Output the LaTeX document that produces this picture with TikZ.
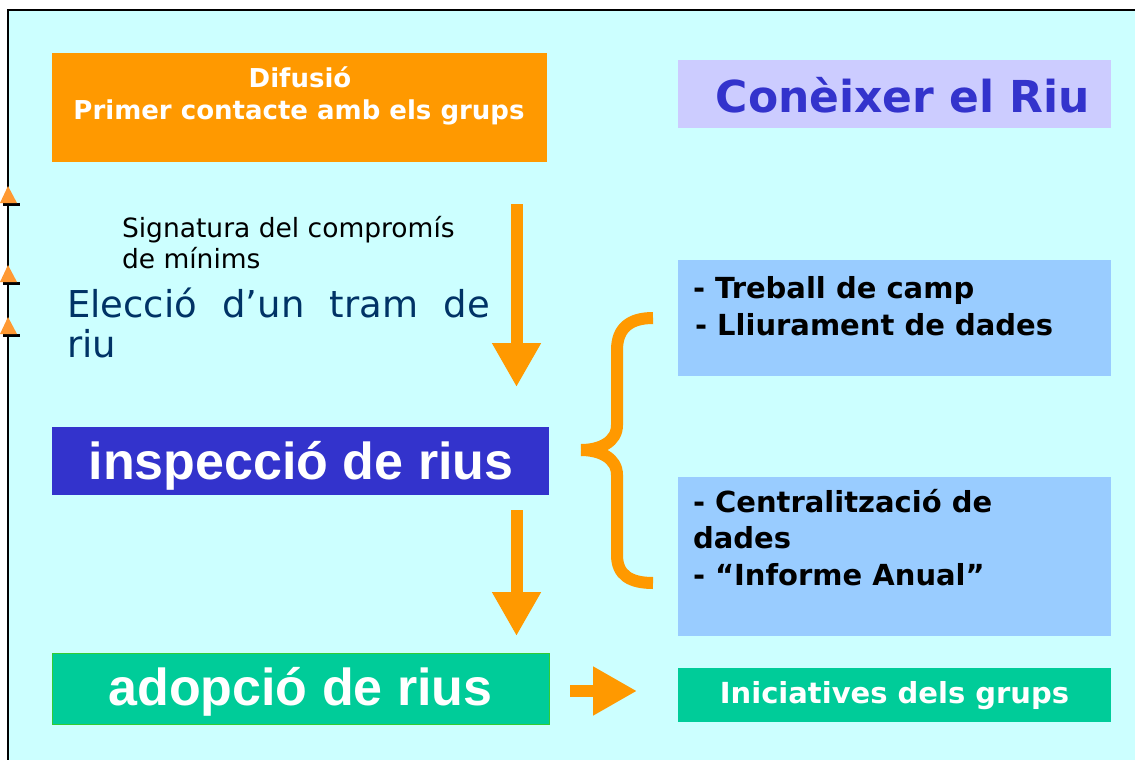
\documentclass[tikz,border=0pt]{standalone}
\usepackage{fontspec}
\setmainfont{DejaVu Sans}
\newfontfamily\arialish{Liberation Sans}
\usetikzlibrary{arrows.meta}
\definecolor{panel}{HTML}{CCFFFF}
\definecolor{orangebox}{HTML}{FF9900}
\definecolor{lilac}{HTML}{CCCCFF}
\definecolor{indigo}{HTML}{3333CC}
\definecolor{teal}{HTML}{00CC99}
\definecolor{tealborder}{HTML}{33CC33}
\definecolor{skyblue}{HTML}{99CCFF}
\definecolor{navy}{HTML}{003366}
\definecolor{bullet}{HTML}{FF9933}
\tikzset{
  box/.style={anchor=north west, inner sep=0pt, outer sep=0pt, draw=none},
  txt/.style={inner sep=0pt, outer sep=0pt, anchor=base},
  ltxt/.style={inner sep=0pt, outer sep=0pt, anchor=base west},
  flow/.style={draw=orangebox, line width=12pt, -{Triangle[width=46pt,length=44pt]}},
  brace/.style={draw=orangebox, line width=12pt, line cap=butt},
}
\newcommand{\fs}[1]{\fontsize{#1}{#1}\selectfont}
\begin{document}
\begin{tikzpicture}[x=1pt,y=-1pt]
\useasboundingbox (0,0) rectangle (1135,760);
\fill[white] (0,0) rectangle (1135,760);
\fill[panel] (8,10) rectangle (1135,760);
\draw[line width=2pt] (8,760) -- (8,10) -- (1135,10);

% bullets on the left edge
\foreach \yy/\nm in {203/b1, 282/b2, 334/b3}{
  \fill[black] (3,\yy) rectangle (20,\yy+3);
  \fill[bullet] (0,\yy) -- (8,\yy-17) -- (17,\yy) -- cycle;
}

% boxes
\node[box, fill=orangebox, minimum width=495pt, minimum height=109pt] (dif) at (52,53) {};
\node[box, fill=lilac, minimum width=433pt, minimum height=68pt] (con) at (678,60) {};
\node[box, fill=indigo, minimum width=497pt, minimum height=68pt] (ins) at (52,427) {};
\node[box, fill=teal, draw=tealborder, line width=1pt, minimum width=497pt, minimum height=71pt] (ado) at (52,653) {};
\node[box, fill=skyblue, minimum width=433pt, minimum height=116pt] (tre) at (678,260) {};
\node[box, fill=skyblue, minimum width=433pt, minimum height=159pt] (cen) at (678,477) {};
\node[box, fill=teal, minimum width=433pt, minimum height=54pt] (ini) at (678,668) {};

% texts
\node[txt, white, font=\fs{26}\bfseries] (t1) at (300,87) {Difusió};
\node[txt, white, font=\fs{26}\bfseries] (t2) at (299,119) {Primer contacte amb els grups};
\node[txt, indigo, font=\fs{44}\bfseries] (t3) at (903,112) {Conèixer el Riu};
\node[ltxt, black, font=\fs{26.5}] (t4) at (122,237) {Signatura del compromís};
\node[ltxt, black, font=\fs{26.5}] (t5) at (122,268) {de mínims};
\node[ltxt, navy, font=\fs{37}] (t6) at (67,317) {\makebox[423pt][s]{Elecció\hfill d’un\hfill tram\hfill de}};
\node[ltxt, navy, font=\fs{37}] (t7) at (67,357) {riu};
\node[txt, white, font=\arialish\fs{52}\bfseries] (t8) at (301,479) {inspecció de rius};
\node[txt, white, font=\arialish\fs{52}\bfseries] (t9) at (300.5,705) {adopció de rius};
\node[txt, white, font=\fs{29}\bfseries] (t10) at (894.5,703) {Iniciatives dels grups};
\node[ltxt, black, font=\fs{29}\bfseries] (t11) at (693,298) {- Treball de camp};
\node[ltxt, black, font=\fs{29}\bfseries] (t12) at (695,335) {- Lliurament de dades};
\node[ltxt, black, font=\fs{29}\bfseries] (t13) at (693,512) {- Centralització de};
\node[ltxt, black, font=\fs{29}\bfseries] (t14) at (693,548) {dades};
\node[ltxt, black, font=\fs{29}\bfseries] (t15) at (693,585) {- “Informe Anual”};

% arrows
\coordinate (a1s) at (516.5,204);
\coordinate (a1e) at (516.5,387);
\coordinate (a2s) at (516.5,510);
\coordinate (a2e) at (516.5,636);
\coordinate (a3s) at (570,691);
\coordinate (a3e) at (637,691);
\draw[flow] (a1s) -- (a1e);
\draw[flow] (a2s) -- (a2e);
\draw[flow] (a3s) -- (a3e);

% brace
\coordinate (bt) at (653,318);
\coordinate (bm) at (581,450);
\coordinate (bb) at (653,583);
\draw[brace] (bt) .. controls (630,318) and (617,328) .. (617,350) -- (617,425) .. controls (617,442) and (600,450) .. (bm);
\draw[brace] (bm) .. controls (600,450) and (617,458) .. (617,475) -- (617,555) .. controls (617,575) and (630,583) .. (bb);
\end{tikzpicture}
\end{document}
